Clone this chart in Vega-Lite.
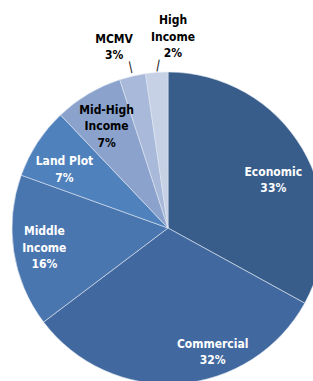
{
  "$schema": "https://vega.github.io/schema/vega-lite/v6.json",
  "width": 313,
  "height": 381,
  "autosize": "none",
  "padding": 0,
  "background": "white",
  "config": {"view": {"stroke": null}, "text": {"font": "DejaVu Sans Condensed", "fontWeight": "bold", "fontSize": 12, "lineHeight": 16.5}},
  "data": {"values": [
    {"Order": 1, "Segment": "Economic", "Share": 33, "Label": "Economic\n33%"},
    {"Order": 2, "Segment": "Commercial", "Share": 31.7, "Label": "Commercial\n32%"},
    {"Order": 3, "Segment": "Middle Income", "Share": 15.8, "Label": "Middle\nIncome\n16%"},
    {"Order": 4, "Segment": "Land Plot", "Share": 7.4, "Label": "Land Plot\n7%"},
    {"Order": 5, "Segment": "Mid-High Income", "Share": 7.1, "Label": "Mid-High\nIncome\n7%"},
    {"Order": 6, "Segment": "MCMV", "Share": 2.7, "Label": "MCMV\n3%"},
    {"Order": 7, "Segment": "High Income", "Share": 2.3, "Label": "High\nIncome\n2%"}
  ]},
  "encoding": {
    "theta": {"field": "Share", "type": "quantitative", "stack": true},
    "order": {"field": "Order", "type": "quantitative"}
  },
  "layer": [
    {
      "mark": {"type": "arc", "outerRadius": 156, "stroke": "#dfe6f0", "strokeWidth": 0.6, "xOffset": 11.5, "yOffset": 37.5},
      "encoding": {
        "color": {"field": "Segment", "type": "nominal", "legend": null,
          "scale": {"domain": ["Economic", "Commercial", "Middle Income", "Land Plot", "Mid-High Income", "MCMV", "High Income"],
                    "range": ["#385D8A", "#4169A0", "#4A76B0", "#4F81BD", "#8AA2CC", "#A9B9D9", "#C6D1E6"]}}
      }
    },
    {
      "mark": {"type": "text", "radius": 120, "lineBreak": "\n", "color": "white", "align": "center", "baseline": "middle", "xOffset": 11.5, "yOffset": 37.5, "dx": -5, "dy": -15},
      "encoding": {"text": {"condition": {"test": "datum.Segment === 'Middle Income'", "field": "Label"}, "value": ""}}
    },
    {
      "mark": {"type": "text", "radius": 120, "lineBreak": "\n", "color": "white", "align": "center", "baseline": "middle", "xOffset": 11.5, "yOffset": 37.5, "dx": -3, "dy": -1},
      "encoding": {"text": {"condition": {"test": "datum.Segment === 'Land Plot'", "field": "Label"}, "value": ""}}
    },
    {
      "mark": {"type": "text", "radius": 120, "lineBreak": "\n", "color": "white", "align": "center", "baseline": "middle", "xOffset": 11.5, "yOffset": 37.5, "dx": 2, "dy": 5},
      "encoding": {"text": {"condition": {"test": "datum.Segment === 'Economic'", "field": "Label"}, "value": ""}}
    },
    {
      "mark": {"type": "text", "radius": 120, "lineBreak": "\n", "color": "white", "align": "center", "baseline": "middle", "xOffset": 11.5, "yOffset": 37.5, "dx": 36, "dy": -4},
      "encoding": {"text": {"condition": {"test": "datum.Segment === 'Commercial'", "field": "Label"}, "value": ""}}
    },
    {
      "mark": {"type": "text", "radius": 120, "lineBreak": "\n", "color": "black", "align": "center", "baseline": "middle", "xOffset": 11.5, "yOffset": 37.5, "dy": -15},
      "encoding": {"text": {"condition": {"test": "datum.Segment === 'Mid-High Income'", "field": "Label"}, "value": ""}}
    },
    {
      "mark": {"type": "text", "radius": 180, "lineBreak": "\n", "color": "black", "align": "center", "baseline": "middle", "xOffset": 11.5, "yOffset": 37.5, "dx": -13, "dy": -14},
      "encoding": {"text": {"condition": {"test": "datum.Segment === 'MCMV'", "field": "Label"}, "value": ""}}
    },
    {
      "mark": {"type": "text", "radius": 180, "lineBreak": "\n", "color": "black", "align": "center", "baseline": "middle", "xOffset": 11.5, "yOffset": 37.5, "dx": 18, "dy": -28},
      "encoding": {"text": {"condition": {"test": "datum.Segment === 'High Income'", "field": "Label"}, "value": ""}}
    },
    {
      "mark": {"type": "text", "radius": 164, "font": "DejaVu Sans", "fontWeight": "normal", "fontSize": 12, "color": "#222", "align": "center", "baseline": "middle", "angle": 348, "xOffset": 11.5, "yOffset": 37.5, "dy": -2},
      "encoding": {"text": {"condition": {"test": "datum.Segment === 'MCMV'", "value": "|"}, "value": ""}}
    },
    {
      "mark": {"type": "text", "radius": 164, "font": "DejaVu Sans", "fontWeight": "normal", "fontSize": 12, "color": "#222", "align": "center", "baseline": "middle", "angle": 11, "xOffset": 11.5, "yOffset": 37.5, "dx": 2},
      "encoding": {"text": {"condition": {"test": "datum.Segment === 'High Income'", "value": "|"}, "value": ""}}
    }
  ]
}
